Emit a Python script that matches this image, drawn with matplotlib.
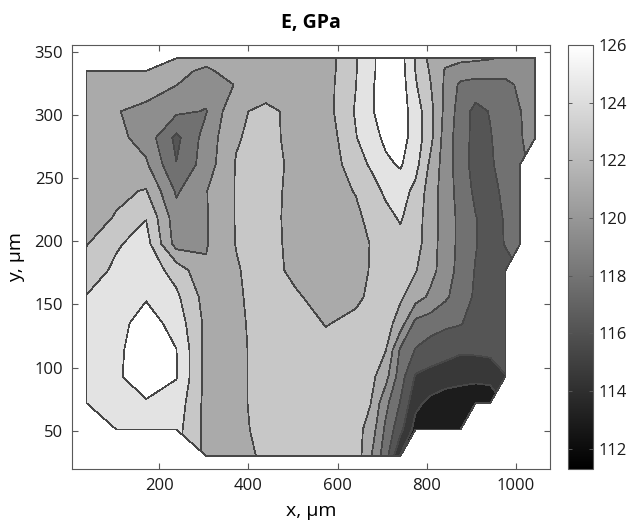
import numpy as np
import matplotlib
matplotlib.use("Agg")
import matplotlib.pyplot as plt
from matplotlib.colors import Normalize
from matplotlib.cm import ScalarMappable

plt.rcParams['font.family'] = ['Open Sans', 'DejaVu Sans']

# measurement grid (um); right part is sampled twice as densely
x_um = [36, 103, 170, 238, 305, 372, 439, 506, 574, 641, 674, 708, 741,
        775, 808, 842, 876, 910, 943, 977, 1010, 1044]
y_um = [30, 51, 72, 93, 114, 135, 156, 177, 198, 219, 240, 261, 282, 303, 324, 335, 345]

nan = np.nan
# Young's modulus E (GPa), one list per row of y, nan = not measured
E_y030 = [nan, nan, nan, nan, 120.6, 120.8, 121.25, 121.85, 121.75, 122.0, 119.65, 116.9,
          112.8, nan, nan, nan, nan, nan, nan, nan, nan, nan]
E_y051 = [nan, 123.55, 123.7, 123.3, 120.6, 120.8, 121.45, 121.9, 121.75, 121.7, 120.45, 117.5,
          115.05, 112.3, 111.9, 111.8, 111.9, nan, nan, nan, nan, nan]
E_y072 = [123.4, 123.9, 124.2, 123.7, 120.6, 120.6, 121.9, 122.0, 121.85, 121.75, 121.15, 118.3,
          116.1, 113.35, 112.5, 112.0, 111.9, 111.9, 112.0, nan, nan, nan]
E_y093 = [123.55, 124.1, 125.35, 124.45, 120.6, 120.6, 121.9, 122.0, 121.75, 121.85, 121.6, 120.05,
          116.95, 114.4, 114.1, 113.75, 113.5, 113.3, 113.4, 114.5, nan, nan]
E_y114 = [123.55, 123.95, 125.5, 124.4, 120.6, 120.6, 121.9, 122.1, 121.75, 121.9, 121.85, 121.15,
          117.6, 116.1, 115.4, 115.15, 114.8, 114.9, 115.05, 115.4, nan, nan]
E_y135 = [123.4, 123.7, 125.2, 123.7, 120.7, 120.7, 121.9, 122.0, 121.0, 121.6, 121.9, 121.85,
          120.3, 117.35, 117.0, 116.5, 116.3, 115.55, 115.05, 115.2, nan, nan]
E_y156 = [122.8, 123.7, 124.2, 123.05, 120.45, 120.8, 122.0, 121.35, 120.3, 120.7, 121.45, 121.85,
          121.35, 120.2, 119.15, 118.1, 117.0, 115.95, 115.2, 115.4, nan, nan]
E_y177 = [121.9, 123.05, 123.7, 122.1, 119.65, 120.95, 121.9, 120.6, 119.9, 120.45, 121.2, 121.85,
          121.9, 121.2, 120.05, 118.65, 117.25, 116.1, 115.4, 115.55, nan, nan]
E_y198 = [121.0, 122.55, 123.4, 118.8, 119.35, 121.15, 121.9, 120.45, 119.95, 120.45, 121.15, 121.9,
          122.25, 121.75, 120.2, 118.7, 117.4, 116.3, 115.4, 116.3, 117.0, nan]
E_y219 = [120.45, 121.2, 122.65, 118.5, 119.35, 121.2, 121.9, 120.35, 120.1, 120.7, 121.6, 122.3,
          122.9, 121.85, 120.3, 118.7, 117.4, 116.25, 115.55, 116.35, 117.2, nan]
E_y240 = [120.6, 120.8, 121.2, 117.6, 119.4, 121.2, 121.9, 120.45, 120.3, 121.2, 122.1, 123.0,
          123.45, 122.3, 120.35, 118.65, 117.2, 115.85, 115.8, 116.5, 117.5, nan]
E_y261 = [120.6, 120.45, 119.7, 116.25, 118.65, 121.2, 121.9, 120.6, 119.95, 122.1, 122.9, 124.05,
          124.55, 123.3, 120.8, 118.65, 117.0, 115.55, 115.95, 117.0, 117.6, nan]
E_y282 = [120.45, 119.95, 118.8, 115.8, 118.5, 120.95, 121.75, 120.45, 120.1, 122.65, 123.7, 124.7,
          125.0, 123.7, 121.6, 118.7, 117.0, 115.65, 116.1, 117.0, 117.75, 118.3]
E_y303 = [120.45, 119.55, 119.0, 118.15, 117.75, 120.85, 121.45, 120.7, 120.45, 122.9, 124.1, 125.35,
          125.2, 123.55, 121.65, 119.0, 117.1, 115.7, 116.3, 117.0, 117.8, 118.3]
E_y324 = [120.3, 120.1, 120.3, 119.5, 118.5, 119.55, 120.3, 120.45, 120.45, 122.7, 124.05, 125.35,
          125.2, 122.9, 121.2, 119.2, 117.5, 117.2, 117.2, 117.35, 118.15, 118.5]
E_y335 = [120.3, 120.2, 120.2, 119.7, 119.3, 119.9, 120.55, 120.45, 120.35, 122.65, 123.95, 125.25,
          125.1, 122.7, 120.95, 119.3, 118.8, 118.65, 118.65, 118.5, 118.65, 118.65]
E_y345 = [nan, nan, nan, 119.95, 119.8, 120.1, 120.45, 120.45, 120.3, 122.65, 123.95, 125.2,
          125.0, 122.65, 120.6, 119.95, 119.8, 119.7, 119.55, 119.3, 119.0, 118.8]

E = np.array([E_y030, E_y051, E_y072, E_y093, E_y114, E_y135, E_y156, E_y177,
              E_y198, E_y219, E_y240, E_y261, E_y282, E_y303, E_y324, E_y335, E_y345])

e_min, e_max = 111.3, 126.0
cbar_ticks = [112, 114, 116, 118, 120, 122, 124, 126]
x_ticks = [200, 400, 600, 800, 1000]
y_ticks = [50, 100, 150, 200, 250, 300, 350]

levels = np.linspace(e_min, e_max, 10)
norm = Normalize(vmin=e_min, vmax=e_max)
# each band gets the grey of its upper level (as in the original figure)
band_colors = plt.cm.gray(norm(levels[1:]))

fig = plt.figure(figsize=(6.3, 5.23), dpi=100)
ax = fig.add_axes([0.1138, 0.1027, 0.7592, 0.8113])
cax = fig.add_axes([0.9021, 0.1033, 0.0387, 0.8107])

cs = ax.contourf(x_um, y_um, np.ma.masked_invalid(E), levels=levels, colors=band_colors)
cs.set_edgecolor('0.28')
cs.set_linewidth(0.5)

ax.set_xlim(3, 1077)
ax.set_ylim(19.5, 355.5)
ax.set_xticks(x_ticks)
ax.set_yticks(y_ticks)
ax.tick_params(direction='in', top=True, right=True, length=4, width=0.8,
               color='0.35', labelcolor='0.1', labelsize=12, pad=6)
for s in ax.spines.values():
    s.set_color('0.35')
    s.set_linewidth(0.8)

ax.set_title('E, GPa', fontsize=14, fontweight='bold', pad=12)
ax.set_xlabel('x, µm', fontsize=14, labelpad=6)
ax.set_ylabel('y, µm', fontsize=14, labelpad=7)

cb = fig.colorbar(ScalarMappable(norm=norm, cmap='gray'), cax=cax, ticks=cbar_ticks)
cax.tick_params(direction='in', left=True, right=True, length=3, width=0.7,
                color='0.35', labelcolor='0.1', labelsize=12, pad=4)
cb.outline.set_edgecolor('0.35')
cb.outline.set_linewidth(0.8)

fig.savefig('out.png', dpi=100)
